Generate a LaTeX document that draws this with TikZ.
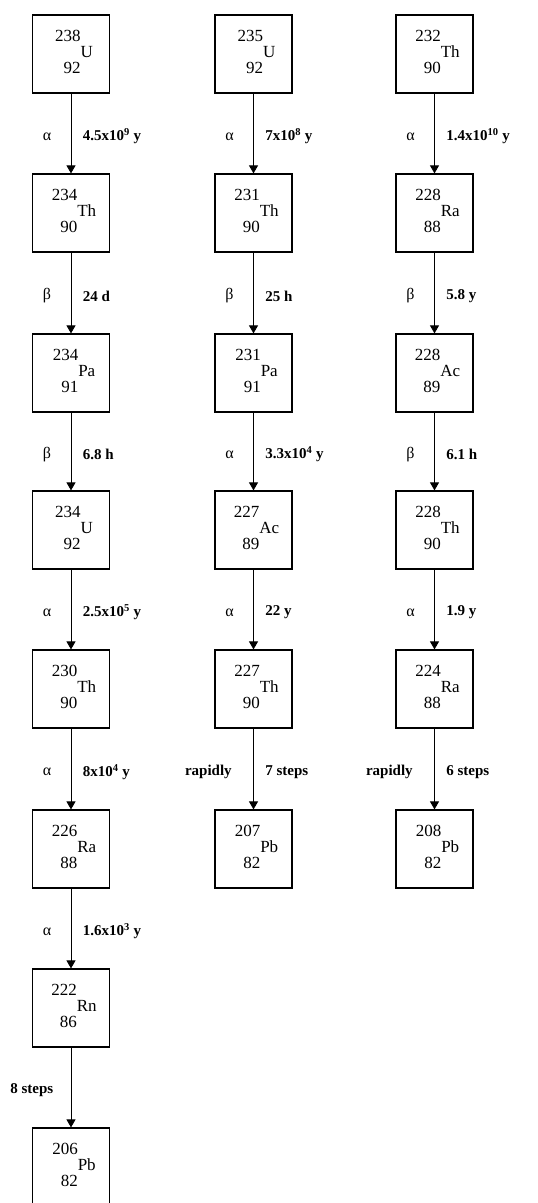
\documentclass[tikz,border=0pt]{standalone}
\usepackage{fontspec}
\setmainfont{Liberation Serif}
\usetikzlibrary{arrows.meta}
\newcommand{\isot}[3]{\hspace*{6pt}\begin{tabular}{@{}r@{}l@{}}#1&\\&#2\\#3&\end{tabular}}
\begin{document}
\begin{tikzpicture}[x=1pt,y=-1pt,
  nuc/.style={draw, line width=1.2pt, minimum width=77pt, minimum height=78pt,
    inner sep=0pt, font=\fontsize{17}{14.5}\selectfont},
  decay/.style={line width=0.9pt, -{Triangle[width=9pt,length=8pt]}},
  kind/.style={midway, xshift=-24pt, yshift=-3pt, font=\fontsize{16}{18}\selectfont},
  kindw/.style={midway, anchor=east, xshift=-14pt, yshift=-3pt, font=\fontsize{15}{17}\selectfont\bfseries},
  time/.style={midway, anchor=west, xshift=8pt, yshift=-3pt, font=\fontsize{15}{17}\selectfont\bfseries}]
\useasboundingbox (0,0) rectangle (538,1203);
\clip (0,0) rectangle (538,1203);
% column 1
\node[nuc] (a1) at (71,54)   {\isot{238}{U}{92}};
\node[nuc] (a2) at (71,213)  {\isot{234}{Th}{90}};
\node[nuc] (a3) at (71,373)  {\isot{234}{Pa}{91}};
\node[nuc] (a4) at (71,530)  {\isot{234}{U}{92}};
\node[nuc] (a5) at (71,689)  {\isot{230}{Th}{90}};
\node[nuc] (a6) at (71,849)  {\isot{226}{Ra}{88}};
\node[nuc] (a7) at (71,1008) {\isot{222}{Rn}{86}};
\node[nuc] (a8) at (71,1167) {\isot{206}{Pb}{82}};
% column 2
\node[nuc] (b1) at (253.5,54)  {\isot{235}{U}{92}};
\node[nuc] (b2) at (253.5,213) {\isot{231}{Th}{90}};
\node[nuc] (b3) at (253.5,373) {\isot{231}{Pa}{91}};
\node[nuc] (b4) at (253.5,530) {\isot{227}{Ac}{89}};
\node[nuc] (b5) at (253.5,689) {\isot{227}{Th}{90}};
\node[nuc] (b6) at (253.5,849) {\isot{207}{Pb}{82}};
% column 3
\node[nuc] (c1) at (434.5,54)  {\isot{232}{Th}{90}};
\node[nuc] (c2) at (434.5,213) {\isot{228}{Ra}{88}};
\node[nuc] (c3) at (434.5,373) {\isot{228}{Ac}{89}};
\node[nuc] (c4) at (434.5,530) {\isot{228}{Th}{90}};
\node[nuc] (c5) at (434.5,689) {\isot{224}{Ra}{88}};
\node[nuc] (c6) at (434.5,849) {\isot{208}{Pb}{82}};
% decays column 1
\draw[decay] (a1) -- node[kind]{α} node[time]{4.5x10\textsuperscript{9} y} (a2);
\draw[decay] (a2) -- node[kind]{β} node[time]{24 d} (a3);
\draw[decay] (a3) -- node[kind]{β} node[time]{6.8 h} (a4);
\draw[decay] (a4) -- node[kind]{α} node[time]{2.5x10\textsuperscript{5} y} (a5);
\draw[decay] (a5) -- node[kind]{α} node[time]{8x10\textsuperscript{4} y} (a6);
\draw[decay] (a6) -- node[kind]{α} node[time]{1.6x10\textsuperscript{3} y} (a7);
\draw[decay] (a7) -- node[kindw]{8 steps} (a8);
% decays column 2
\draw[decay] (b1) -- node[kind]{α} node[time]{7x10\textsuperscript{8} y} (b2);
\draw[decay] (b2) -- node[kind]{β} node[time]{25 h} (b3);
\draw[decay] (b3) -- node[kind]{α} node[time]{3.3x10\textsuperscript{4} y} (b4);
\draw[decay] (b4) -- node[kind]{α} node[time]{22 y} (b5);
\draw[decay] (b5) -- node[kindw, xshift=-4pt]{rapidly} node[time]{7 steps} (b6);
% decays column 3
\draw[decay] (c1) -- node[kind]{α} node[time]{1.4x10\textsuperscript{10} y} (c2);
\draw[decay] (c2) -- node[kind]{β} node[time]{5.8 y} (c3);
\draw[decay] (c3) -- node[kind]{β} node[time]{6.1 h} (c4);
\draw[decay] (c4) -- node[kind]{α} node[time]{1.9 y} (c5);
\draw[decay] (c5) -- node[kindw, xshift=-4pt]{rapidly} node[time]{6 steps} (c6);
\end{tikzpicture}
\end{document}
